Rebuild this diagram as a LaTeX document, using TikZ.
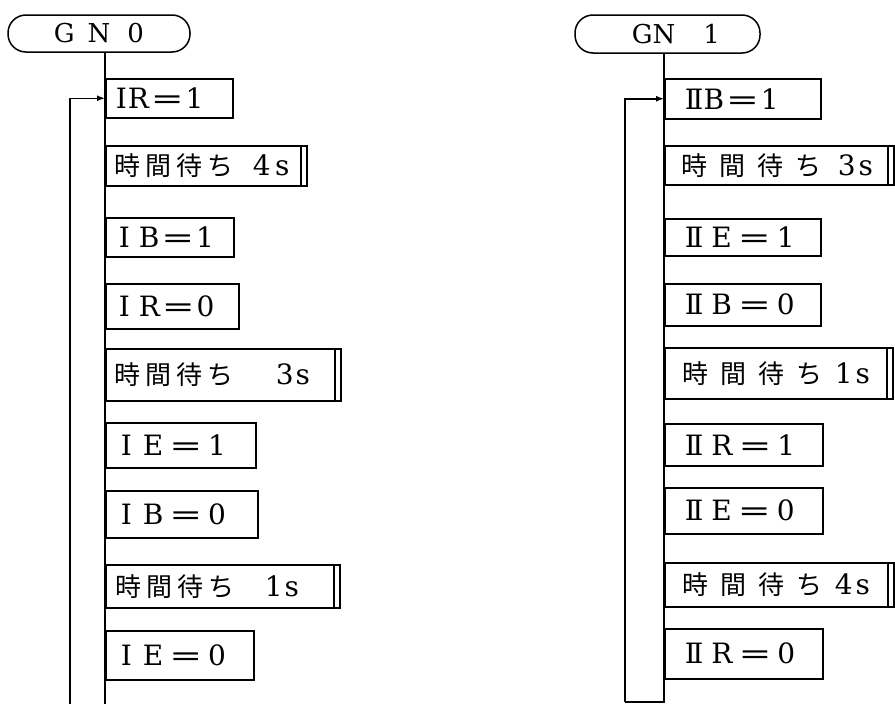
\documentclass[tikz,border=0pt]{standalone}
\usepackage{fontspec}
\usepackage{graphicx}
\setmainfont{DejaVu Serif}
\newfontfamily\jpfont{Noto Sans CJK JP}
\usetikzlibrary{arrows.meta}
\newcommand\eqs{\hspace{2pt}\scalebox{1.4}[1]{=}\hspace{2pt}}
\newcommand\eqw{\hspace{6pt}\scalebox{1.4}[1]{=}\hspace{6pt}}
\newcommand\two{I\kern-0.12em I}
\newcommand\wait[1]{{\jpfont\fontsize{26}{28}\selectfont 時\kern#1間\kern#1待\kern#1ち}}
\newcommand\mybox[7]{%
  \pgfmathsetmacro\bw{#5-#2-2*#6}\pgfmathsetmacro\bh{#4-#3}%
  \node[stepbox, text width=\bw pt, inner xsep=#6pt, minimum height=\bh pt] (#1) at (#2,#3) {#7};}
\newcommand\timerbar[1]{\draw ([xshift=-6.5pt]#1.north east) -- ([xshift=-6.5pt]#1.south east);}
\begin{document}
\begin{tikzpicture}[x=1pt,y=-1pt, line width=1.5pt,
  stepbox/.style={draw, anchor=north west, inner ysep=0pt, align=left, font=\fontsize{28}{30}\selectfont},
  term/.style={draw, rounded corners=18pt, inner sep=0pt, font=\fontsize{26}{28}\selectfont},
  arr/.style={-{Latex[length=8pt,width=6pt]}}]
\useasboundingbox (0,0) rectangle (895,704);

% ---------- left flow ----------
\node[term, minimum width=182pt, minimum height=37pt] (gn0) at (99,33.5) {G\hspace{13pt}N\hspace{17pt}0};
\mybox{l1}{105}{78}{117}{232}{10}{I\kern1pt R\eqs 1}
\mybox{l2}{105}{145}{185}{306}{9}{\wait{5pt}\hspace{19pt}4\,s}
\mybox{l3}{105}{217}{256}{233}{13}{I\hspace{9pt}B\eqs 1}
\mybox{l4}{105}{283}{328}{238}{13}{I\hspace{9pt}R\eqs 0}
\mybox{l5}{105}{348}{400}{340}{9}{\wait{5pt}\hspace{42pt}3\hspace{2pt}s}
\mybox{l6}{105}{422}{467}{255}{15}{I\hspace{11pt}E\eqw 1}
\mybox{l7}{105}{490}{537}{257}{15}{I\hspace{11pt}B\eqw 0}
\mybox{l8}{105}{564}{607}{339}{10}{\wait{5pt}\hspace{30pt}1\hspace{2pt}s}
\mybox{l9}{105}{630}{679}{253}{15}{I\hspace{11pt}E\eqw 0}
\timerbar{l2}\timerbar{l5}\timerbar{l8}
\coordinate (b0) at (105,704);
\coordinate (lb0) at (70,704);
\draw (gn0.south -| l1.west) -- (b0);
\draw[arr] (lb0) |- (l1.west);

% ---------- right flow ----------
\node[term, minimum width=185pt, minimum height=38pt] (gn1) at (667.5,34) {\hspace{17pt}G\hspace{0pt}N\hspace{28pt}1};
\mybox{r1}{664}{78}{118}{820}{20}{\two B\eqs 1}
\mybox{r2}{664}{145}{184}{893}{17}{\wait{12pt}\hspace{16pt}3\hspace{3pt}s}
\mybox{r3}{664}{218}{255}{820}{20}{\two\hspace{8pt}E\eqw 1}
\mybox{r4}{664}{283}{325}{820}{20}{\two\hspace{8pt}B\eqw 0}
\mybox{r5}{664}{347}{398}{892}{18}{\wait{12pt}\hspace{12pt}1\hspace{3pt}s}
\mybox{r6}{664}{423}{465}{822}{20}{\two\hspace{8pt}R\eqw 1}
\mybox{r7}{664}{487}{533}{822}{20}{\two\hspace{8pt}E\eqw 0}
\mybox{r8}{664}{562}{606}{893}{18}{\wait{12pt}\hspace{12pt}4\hspace{3pt}s}
\mybox{r9}{664}{628}{678}{822}{20}{\two\hspace{8pt}R\eqw 0}
\timerbar{r2}\timerbar{r5}\timerbar{r8}
\coordinate (b1) at (664,702);
\coordinate (lb1) at (625,702);
\draw (gn1.south -| r1.west) -- (b1) -- (lb1);
\draw[arr] (lb1) |- (r1.west);
\end{tikzpicture}
\end{document}
